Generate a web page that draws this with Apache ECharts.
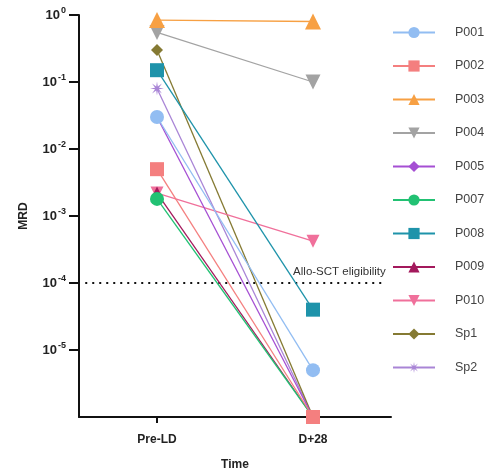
<!DOCTYPE html>
<html>
<head>
<meta charset="utf-8">
<script src="https://cdn.jsdelivr.net/npm/echarts@6/dist/echarts.min.js"></script>
<style>
  html, body { margin: 0; padding: 0; background: #fff; }
  #chart { width: 486px; height: 471px; }
</style>
</head>
<body>
<div id="chart"></div>
<script>
// time points
var timePoints = ["Pre-LD", "D+28"];
// patients / samples
var names = ["P001", "P002", "P003", "P004", "P005", "P007", "P008", "P009", "P010", "Sp1", "Sp2"];
// MRD at Pre-LD and D+28
var preLD = [0.03, 0.005, 0.84, 0.55, 0.03, 0.0018, 0.15, 0.0022, 0.0022, 0.3, 0.08];
var d28   = [5e-6, 1e-6, 0.8, 0.1, 1e-6, 1e-6, 4e-5, 1e-6, 0.00042, 1e-6, 1e-6];
// y ticks (decades)
var yTicks = [1, 0.1, 0.01, 0.001, 0.0001, 0.00001];
var threshold = 1e-4;
var thresholdLabel = "Allo-SCT eligibility";

var colors = ["#92BDF2", "#F47F7F", "#F7A043", "#A3A3A3", "#A54FD3", "#22C173", "#1E93AA", "#A3195C", "#F0709B", "#857A33", "#A985D6"];

var downTri = "path://M0,0 L10,0 L5,9 Z";
// 8 armed asterisk
function starPath() {
  var pts = [];
  for (var i = 0; i < 16; i++) {
    var a = Math.PI * i / 8;
    var r = i % 2 === 0 ? 10 : 3;
    pts.push((10 + r * Math.sin(a)).toFixed(2) + "," + (10 - r * Math.cos(a)).toFixed(2));
  }
  return "path://M" + pts.join(" L") + " Z";
}
var symbols = ["circle", "rect", "triangle", downTri, "diamond", "circle", "rect", "triangle", downTri, "diamond", starPath()];
var sizes = [14, 14, 16, 15, 12, 14, 14, 13, 13, 12, 14];

var chart = echarts.init(document.getElementById("chart"));

var series = names.map(function (n, i) {
  return {
    name: n,
    type: "line",
    data: [preLD[i], d28[i]],
    symbol: symbols[i],
    symbolSize: sizes[i],
    z: 3 + names.length - i,
    color: colors[i],
    lineStyle: { width: 1.3, color: colors[i] },
    itemStyle: { color: colors[i] },
    emphasis: { disabled: true }
  };
});

// dotted threshold line, on a hidden 0..1 x axis so it spans the plot
series.push({
  name: "threshold",
  type: "line",
  xAxisIndex: 1,
  z: 2,
  silent: true,
  symbol: "circle",
  symbolSize: 1,
  itemStyle: { color: "rgba(0,0,0,0)" },
  lineStyle: { type: [2, 5], color: "#111", width: 2 },
  data: [
    [0.02, threshold],
    {
      value: [0.98, threshold],
      label: {
        show: true,
        position: "top",
        align: "right",
        offset: [1, 0],
        distance: 5,
        formatter: thresholdLabel,
        color: "#333",
        fontSize: 11.5,
        fontFamily: "Liberation Sans"
      }
    }
  ]
});

var option = {
  animation: false,
  textStyle: { fontFamily: "Liberation Sans" },
  grid: { left: 79, right: 95, top: 15, bottom: 54, containLabel: false, outerBoundsMode: "none" },
  legend: {
    orient: "vertical",
    left: 387,
    top: 21,
    itemWidth: 42,
    itemHeight: 14,
    itemGap: 20.5,
    data: names,
    textStyle: { color: "#444", fontSize: 12.5, fontFamily: "Liberation Sans", padding: [0, 0, 0, 15] }
  },
  xAxis: [{
    type: "category",
    data: timePoints,
    name: "Time",
    nameLocation: "middle",
    nameGap: 42,
    nameTextStyle: { fontWeight: "bold", fontSize: 12, color: "#222" },
    axisLine: { lineStyle: { color: "#111", width: 2 } },
    axisTick: { show: true, alignWithLabel: true, length: 6, lineStyle: { color: "#111", width: 2 } },
    axisLabel: { fontWeight: "bold", fontSize: 12, color: "#222", margin: 17 }
  }, {
    type: "value",
    min: 0,
    max: 1,
    show: false
  }],
  yAxis: {
    type: "log",
    logBase: 10,
    min: 1e-6,
    max: 1,
    name: "MRD",
    nameLocation: "middle",
    nameGap: 49,
    nameTextStyle: { fontWeight: "bold", fontSize: 12, color: "#222" },
    splitLine: { show: false },
    minorTick: { show: false },
    axisLine: { show: true, lineStyle: { color: "#111", width: 2 } },
    axisTick: { show: true, length: 10, customValues: yTicks, lineStyle: { color: "#111", width: 2 } },
    axisLabel: {
      margin: 13,
      color: "#222",
      fontWeight: "bold",
      fontSize: 13,
      customValues: yTicks,
      formatter: function (v) {
        var e = Math.round(Math.log10(v));
        return "10{sup|" + e + "}";
      },
      rich: {
        sup: { fontSize: 9, fontWeight: "bold", color: "#222", padding: [0, 0, 8, 1] }
      }
    }
  },
  series: series
};

chart.setOption(option);
</script>
</body>
</html>
